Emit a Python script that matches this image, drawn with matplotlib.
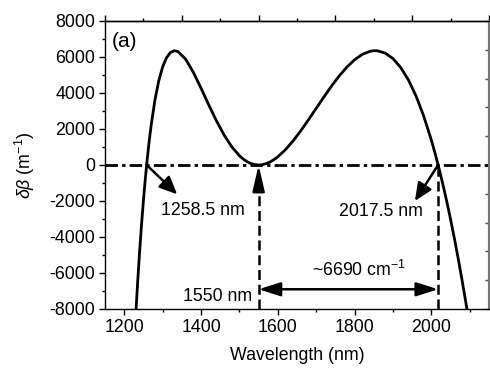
import numpy as np
import matplotlib
matplotlib.use("Agg")
import matplotlib.pyplot as plt

plt.rcParams['font.family'] = ['Liberation Sans', 'DejaVu Sans']
plt.rcParams['mathtext.fontset'] = 'custom'
plt.rcParams['mathtext.rm'] = 'Liberation Sans'
plt.rcParams['mathtext.it'] = 'Liberation Sans:italic'
plt.rcParams['mathtext.bf'] = 'Liberation Sans:bold'
plt.rcParams['axes.unicode_minus'] = False

# ---- data ----
wavelength = [1225, 1230, 1235, 1240, 1245, 1250, 1255, 1260, 1265, 1270, 1280, 1290,
              1300, 1310, 1320, 1330, 1340, 1360, 1380, 1400, 1420, 1440, 1460, 1480,
              1500, 1510, 1520, 1530, 1540, 1550, 1560, 1570, 1580, 1590, 1600, 1620,
              1640, 1660, 1680, 1700, 1720, 1740, 1760, 1780, 1800, 1820, 1840, 1850,
              1860, 1880, 1900, 1920, 1940, 1960, 1980, 2000, 2010, 2020, 2030, 2040,
              2050, 2060, 2070, 2080, 2090, 2100]
delta_beta = [-10351, -8342, -6512, -4848, -3341, -1981, -758, 337, 1314, 2178, 3607, 4678,
              5446, 5953, 6242, 6348, 6304, 5877, 5150, 4270, 3346, 2461, 1670, 1014,
              515, 328, 183, 81, 20, 0, 19, 77, 169, 296, 454, 853,
              1345, 1907, 2517, 3149, 3780, 4388, 4949, 5442, 5847, 6144, 6315, 6348,
              6343, 6212, 5908, 5418, 4729, 3831, 2714, 1369, 610, -210, -1091, -2032,
              -3036, -4102, -5230, -6425, -7681, -9003]

zero_crossings = [1258.5, 1550, 2017.5]
x_ticks = [1200, 1400, 1600, 1800, 2000]
y_ticks = [-8000, -6000, -4000, -2000, 0, 2000, 4000, 6000, 8000]
x_limits = [1150, 2150]
y_limits = [-8000, 8000]
gap_label = r'~6690 cm$^{\mathregular{-1}}$'

fig = plt.figure(figsize=(4.9, 3.7), dpi=100)
ax = fig.add_axes([0.2143, 0.1649, 0.7837, 0.7784])

ax.plot(wavelength, delta_beta, color='black', lw=2.0, zorder=3)

# zero line (dash-dot)
ax.axhline(0, color='black', lw=2.0, linestyle=(0, (4.5, 1.5, 1.2, 1.5)), zorder=2)

# vertical dashed lines
ax.plot([zero_crossings[1], zero_crossings[1]], [y_limits[0], -900], color='black',
        lw=1.8, linestyle=(0, (4, 1.9)), zorder=2)
ax.plot([zero_crossings[2], zero_crossings[2]], [y_limits[0], 0], color='black',
        lw=1.8, linestyle=(0, (4, 1.9)), zorder=2)

# arrow to 1550 zero
ax.annotate('', xy=(zero_crossings[1], 0), xytext=(zero_crossings[1], -900),
            arrowprops=dict(arrowstyle='-|>,head_length=1.3,head_width=0.3',
                            color='black', lw=1.8, shrinkA=0, shrinkB=0,
                            mutation_scale=12))

# arrow from 1258.5 crossing
ax.annotate('', xy=(1338, -1630), xytext=(zero_crossings[0], 0),
            arrowprops=dict(arrowstyle='-|>,head_length=0.9,head_width=0.4',
                            color='black', lw=1.8, shrinkA=0, shrinkB=0,
                            mutation_scale=12))
ax.text(1297, -2550, f'{zero_crossings[0]} nm', fontsize=12.8, ha='left', va='center')

# arrow from 2017.5 crossing
ax.annotate('', xy=(1957, -2000), xytext=(zero_crossings[2], 0),
            arrowprops=dict(arrowstyle='-|>,head_length=0.9,head_width=0.4',
                            color='black', lw=1.8, shrinkA=0, shrinkB=0,
                            mutation_scale=12))
ax.text(1760, -2600, f'{zero_crossings[2]} nm', fontsize=12.8, ha='left', va='center')

# double arrow
ax.annotate('', xy=(zero_crossings[1], -6905), xytext=(zero_crossings[2], -6905),
            arrowprops=dict(arrowstyle='<|-|>,head_length=1.1,head_width=0.35',
                            color='black', lw=1.8, shrinkA=0, shrinkB=0,
                            mutation_scale=12))
ax.text(1812, -6400, gap_label, fontsize=12.8, ha='center', va='bottom')
ax.text(1533, -7300, f'{zero_crossings[1]:.0f} nm', fontsize=12.8, ha='right', va='center')

ax.text(0.018, 0.96, '(a)', transform=ax.transAxes, fontsize=15, ha='left', va='top')

ax.set_xlim(x_limits)
ax.set_ylim(y_limits)
ax.set_xticks(x_ticks)
ax.set_xticks(np.arange(1300, 2101, 200), minor=True)
ax.set_yticks(y_ticks)
ax.set_yticks(np.arange(-7000, 8000, 2000), minor=True)
ax.tick_params(which='major', direction='out', length=4, width=1, labelsize=12.8, pad=3)
ax.tick_params(which='minor', direction='out', length=2, width=1)
ax.tick_params(top=False, right=False, which='both')

for s in ['left', 'bottom', 'top']:
    ax.spines[s].set_linewidth(1.0)
ax.spines['right'].set_color('#777777')
ax.spines['right'].set_linewidth(1.5)

# top axis ticks (offset by 50 nm)
secx = ax.secondary_xaxis('top')
secx.set_xticks(np.arange(1150, 2151, 200))
secx.set_xticks(np.arange(1250, 2101, 200), minor=True)
secx.tick_params(which='major', direction='out', length=4, width=1, labeltop=False)
secx.tick_params(which='minor', direction='out', length=2, width=1)
secx.spines['top'].set_linewidth(1.0)

secy = ax.secondary_yaxis('right')
secy.set_yticks(np.arange(-8000, 8001, 1600))
secy.tick_params(direction='in', length=3, width=1, labelright=False, color='#444444')
secy.spines['right'].set_color('#777777')
secy.spines['right'].set_linewidth(1.5)

ax.set_xlabel('Wavelength (nm)', fontsize=12.8, labelpad=8)
ax.set_ylabel(r'$\delta\beta$ (m$^{\mathregular{-1}}$)', fontsize=12.8, labelpad=9)

fig.savefig('out.png', dpi=100)
